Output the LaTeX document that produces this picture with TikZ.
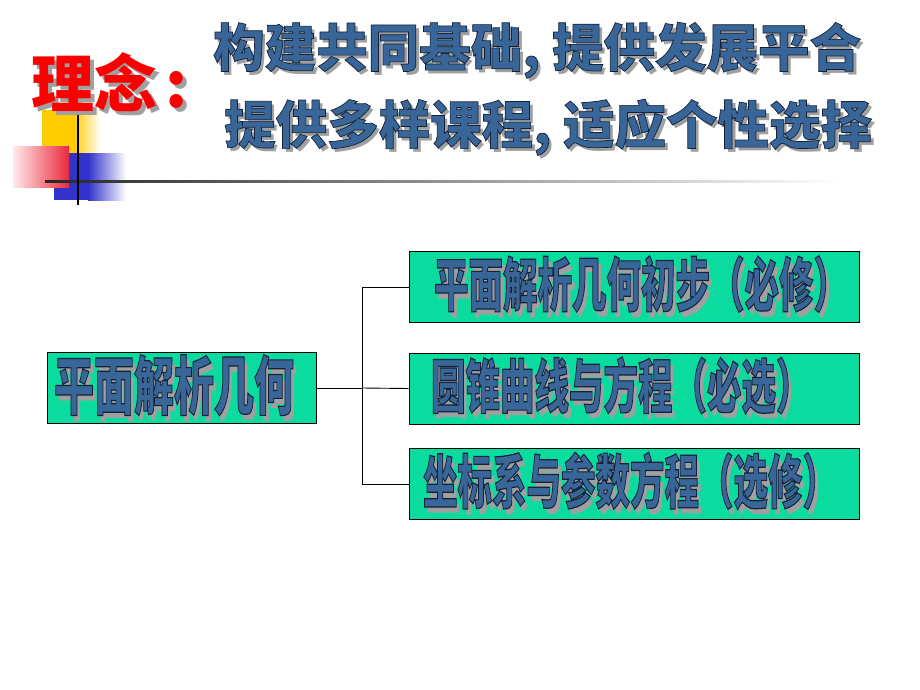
\documentclass[tikz,border=0pt]{standalone}
\usepackage{fontspec}
\usepackage{graphicx}
\newfontfamily\cjk{Noto Sans CJK SC}
\definecolor{boxfill}{RGB}{10,220,160}
\definecolor{txtblue}{RGB}{56,102,152}
\definecolor{shgrey}{RGB}{160,160,160}
\definecolor{titlered}{RGB}{250,0,0}
\definecolor{decoyellow}{RGB}{255,204,0}
\definecolor{decoblue}{RGB}{51,51,204}
\definecolor{decored}{RGB}{235,40,60}
% shadowed, outlined text: #1 fill colour, #2 text
\newcommand\fancytext[2]{%
  \rlap{\hspace{3.5pt}\raisebox{-3.5pt}{\color{shgrey}#2}}%
  {\color{#1}\special{pdf:literal direct 2 Tr 0.7 w 0.08 0.13 0.22 RG}#2\special{pdf:literal direct 0 Tr}}}
\newcommand\redtext[1]{%
  \rlap{\hspace{4pt}\raisebox{-4pt}{\color{shgrey}#1}}%
  {\color{titlered}#1}}
\begin{document}
\begin{tikzpicture}[x=1pt,y=-1pt,
  treebox/.style={draw=black, line width=0.9pt, fill=boxfill, inner ysep=0pt,
    minimum height=71pt, align=left},
  conn/.style={draw=black, line width=0.9pt},
  boxfont/.style={font=\cjk\bfseries\fontsize{34.5}{36}\selectfont}]
\useasboundingbox (0,0) rectangle (920,690);
% decoration
\fill[decoyellow] (42,110) rectangle (74,153);
\shade[left color=decoyellow, right color=white] (74,110) rectangle (100,153);
\fill[decoblue] (54,153) rectangle (88,200);
\shade[left color=decoblue, right color=white] (88,153) rectangle (126,200);
\shade[left color=red!8, right color=decored] (13,146) rectangle (69,187);
\shade[left color=black!85, right color=white] (45,180) rectangle (840,182.2);
\fill[black] (77,103) rectangle (79.3,205);
% titles
\node[anchor=west, inner sep=0pt, font=\cjk\bfseries\fontsize{63}{66}\selectfont] (idea) at (31,84) {\redtext{理念}\hspace{8pt}\redtext{:}};
\node[anchor=west, inner sep=0pt, font=\cjk\bfseries\fontsize{51.5}{54}\selectfont] (line1) at (213,52) {\fancytext{txtblue}{构建共同基础, 提供发展平合}};
\node[anchor=west, inner sep=0pt, font=\cjk\bfseries\fontsize{51.5}{54}\selectfont] (line2) at (224,129) {\fancytext{txtblue}{提供多样课程, 适应个性选择}};
% tree
\node[treebox, inner xsep=7pt, text width=255pt, font=\cjk\bfseries\fontsize{40}{44}\selectfont] (root) at (181.5,388) {\scalebox{1}[1.6]{\fancytext{txtblue}{平面解析几何}}};
\node[treebox, boxfont, inner xsep=25pt, text width=400pt] (a) at (634,287) {\scalebox{1}[1.7]{\fancytext{txtblue}{平面解析几何初步（必修）}}};
\node[treebox, boxfont, inner xsep=22pt, text width=406pt] (b) at (634,388.5) {\scalebox{1}[1.7]{\fancytext{txtblue}{圆锥曲线与方程（必选）}}};
\node[treebox, boxfont, inner xsep=14pt, text width=422pt] (c) at (634,484) {\scalebox{1}[1.7]{\fancytext{txtblue}{坐标系与参数方程（选修）}}};
\coordinate (j) at (362,388);
\draw[conn] (root.east) -- (j);
\draw[conn] (a.west) -| (j |- a.west) -- (j |- c.west) -- (c.west);
\draw[conn] (j) -- (b.west);
\end{tikzpicture}
\end{document}
